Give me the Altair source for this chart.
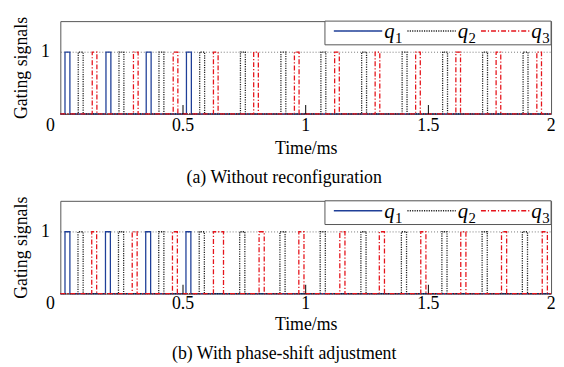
import altair as alt
import pandas as pd

# ---------------- data ----------------
T_END = 2.0
Y_MAX = 1.5
series = ["q1", "q2", "q3"]

# panel (a): without reconfiguration -- pulse rising edges (ms) and widths (ms)
a_q1_on = [0.019, 0.186, 0.350, 0.514]
a_q1_w = [0.020, 0.020, 0.020, 0.020]
a_q2_on = [0.073, 0.239, 0.402, 0.568, 0.734, 0.899, 1.062, 1.228, 1.393, 1.558, 1.721, 1.886]
a_q2_w = [0.020] * 12
a_q3_on = [0.130, 0.298, 0.460, 0.624, 0.788, 0.954, 1.118, 1.283, 1.448, 1.612, 1.776, 1.942]
a_q3_w = [0.019] * 12

# panel (b): with phase-shift adjustment
b_q1_on = [0.019, 0.184, 0.348, 0.512]
b_q1_w = [0.020, 0.020, 0.020, 0.020]
b_q2_on = [0.072, 0.237, 0.401, 0.566, 0.731, 0.895, 1.059, 1.225, 1.390, 1.555, 1.719, 1.883]
b_q2_w = [0.021] * 12
b_q3_on = [0.128, 0.293, 0.457, 0.624, 0.810, 0.972, 1.139, 1.300, 1.469, 1.632, 1.798, 1.964]
b_q3_w = [0.020, 0.020, 0.020, 0.041, 0.021, 0.021, 0.021, 0.021, 0.021, 0.021, 0.021, 0.021]

x_ticks = [0, 0.5, 1, 1.5, 2]
x_tick_labels = ["0", "0.5", "1", "1.5", "2"]
inner_ticks = [0.5, 1, 1.5]
y_ticks = [1]

colors = ["#1f3f98", "#222222", "#e5141b"]
dashes = [[1, 0], [1.2, 1.2], [5, 2, 1.2, 2]]

FONT = '"Liberation Serif", "Times New Roman", serif'
W, H = 497, 94

# legend layout (pixels inside the plot area, converted to data units below)
LEG_LEFT, LEG_BOTTOM = 268, 24
LEG_SYM0, LEG_STEP, LEG_SYM_LEN, LEG_SYM_Y = 277, 74.5, 49, 10
LEG_Q_Y, LEG_SUB_Y = 17, 22


def px_x(p):
    return p / W * T_END


def px_y(p):
    return Y_MAX * (1 - p / H)


def signal_rows(name, ons, widths):
    rows = [dict(s=name, t=0.0, v=0, i=0)]
    k = 1
    for on, w in zip(ons, widths):
        for t, v in ((on, 0), (on, 1), (on + w, 1), (on + w, 0)):
            rows.append(dict(s=name, t=t, v=v, i=k))
            k += 1
    rows.append(dict(s=name, t=T_END, v=0, i=k))
    return rows


x_scale = alt.Scale(domain=[0, T_END], nice=False, zero=False)
y_scale = alt.Scale(domain=[0, Y_MAX], nice=False)
color_enc = alt.Color("s:N", scale=alt.Scale(domain=series, range=colors), legend=None)
dash_enc = alt.StrokeDash("s:N", scale=alt.Scale(domain=series, range=dashes), legend=None)


def axes(title_pad):
    xa = alt.Axis(values=x_ticks, title="Time/ms", labels=False,
                  ticks=False, domain=False, grid=False, titlePadding=title_pad)
    ya = alt.Axis(values=y_ticks, title="Gating signals", format="~g",
                  ticks=False, domain=False,
                  grid=True, gridDash=[1, 2], gridColor="#777777",
                  labelPadding=11, titlePadding=10)
    return xa, ya


def panel(q1, q2, q3, caption, label_pad, title_pad, cap_offset):
    xa, ya = axes(title_pad)
    rows = (signal_rows(series[0], *q1) + signal_rows(series[1], *q2)
            + signal_rows(series[2], *q3))
    df = pd.DataFrame(rows)
    lines = alt.Chart(df).mark_line(strokeWidth=1.3, interpolate="linear").encode(
        x=alt.X("t:Q", scale=x_scale, axis=xa),
        y=alt.Y("v:Q", scale=y_scale, axis=ya),
        color=color_enc,
        strokeDash=dash_enc,
        order=alt.Order("i:Q"),
    )
    tick_df = pd.DataFrame({"t": inner_ticks})
    ticks = alt.Chart(tick_df).mark_rule(color="black", strokeWidth=1).encode(
        x=alt.X("t:Q", scale=x_scale, axis=xa), y=alt.value(H), y2=alt.value(H - 9))

    # x tick labels (the "0" sits a little left of the axis origin, as in the reference)
    lab_df = pd.DataFrame({"t": x_ticks, "lab": x_tick_labels})
    lab0 = alt.Chart(lab_df[lab_df["t"] == 0]).mark_text(
        font=FONT, fontSize=18, color="black", align="center", baseline="top", dx=-10).encode(
        x=alt.X("t:Q", scale=x_scale, axis=xa), y=alt.value(H + label_pad), text="lab:N")
    labs = alt.Chart(lab_df[lab_df["t"] > 0]).mark_text(
        font=FONT, fontSize=18, color="black", align="center", baseline="top").encode(
        x=alt.X("t:Q", scale=x_scale, axis=xa), y=alt.value(H + label_pad), text="lab:N")

    # legend drawn inside the plot area (top-right), like the reference
    leg = pd.DataFrame({
        "s": series,
        "base": [s[0] for s in series],
        "sub": [s[1:] for s in series],
    })
    sym_px = [LEG_SYM0 + LEG_STEP * k for k in range(len(series))]
    leg["t"] = [px_x(p) for p in sym_px]
    leg["t2"] = [px_x(p + LEG_SYM_LEN) for p in sym_px]
    leg["tq"] = [px_x(p + LEG_SYM_LEN + 2) for p in sym_px]
    leg["ts"] = [px_x(p + LEG_SYM_LEN + 13) for p in sym_px]
    leg["v"] = px_y(LEG_SYM_Y)
    leg["vq"] = px_y(LEG_Q_Y)
    leg["vs"] = px_y(LEG_SUB_Y)
    box_df = pd.DataFrame({"t": [px_x(LEG_LEFT)], "t2": [T_END],
                           "v": [Y_MAX], "v2": [px_y(LEG_BOTTOM)]})
    box = alt.Chart(box_df).mark_rect(fill="white", stroke="#555555", strokeWidth=1).encode(
        x=alt.X("t:Q", scale=x_scale, axis=xa), x2="t2:Q",
        y=alt.Y("v:Q", scale=y_scale, axis=ya), y2="v2:Q")
    syms = alt.Chart(leg).mark_rule(strokeWidth=1.5).encode(
        x=alt.X("t:Q", scale=x_scale, axis=xa), x2="t2:Q",
        y=alt.Y("v:Q", scale=y_scale, axis=ya),
        color=color_enc, strokeDash=dash_enc)
    qs = alt.Chart(leg).mark_text(font=FONT, fontSize=21, fontStyle="italic", align="left",
                                  baseline="alphabetic", color="black").encode(
        x=alt.X("tq:Q", scale=x_scale, axis=xa), y=alt.Y("vq:Q", scale=y_scale, axis=ya),
        text="base:N")
    subs = alt.Chart(leg).mark_text(font=FONT, fontSize=15, align="left",
                                    baseline="alphabetic", color="black").encode(
        x=alt.X("ts:Q", scale=x_scale, axis=xa), y=alt.Y("vs:Q", scale=y_scale, axis=ya),
        text="sub:N")

    return alt.layer(lines, ticks, lab0, labs, box, syms, qs, subs).properties(
        width=W, height=H,
        title=alt.TitleParams(caption, orient="bottom", anchor="middle", frame="bounds",
                              font=FONT, fontSize=18, fontWeight="normal", color="black",
                              offset=cap_offset),
    )


a = panel((a_q1_on, a_q1_w), (a_q2_on, a_q2_w), (a_q3_on, a_q3_w),
          "(a) Without reconfiguration", 3, 26, 12)
b = panel((b_q1_on, b_q1_w), (b_q2_on, b_q2_w), (b_q3_on, b_q3_w),
          "(b) With phase-shift adjustment", 2, 22, 12)

chart = alt.vconcat(a, b, spacing=7).configure(
    padding={"left": 4, "top": 5, "right": 0, "bottom": 0}
).configure_view(stroke="#555555", strokeWidth=1).configure_axis(
    labelFont=FONT, labelFontSize=18, labelColor="black",
    titleFont=FONT, titleFontSize=18, titleFontWeight="normal", titleColor="black",
)

chart.save("out.html", embed_options={"renderer": "svg", "actions": False})
